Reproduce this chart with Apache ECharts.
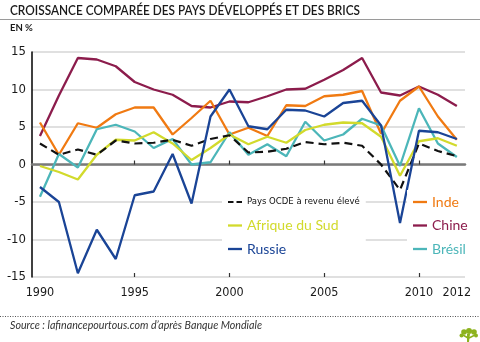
<!DOCTYPE html>
<html><head><meta charset="utf-8">
<script src="https://cdn.jsdelivr.net/npm/echarts@6/dist/echarts.min.js"></script>
<style>html,body{margin:0;padding:0;background:#fff}#c{width:480px;height:342px}</style>
</head><body><div id="c"></div>
<script>
const years = [1990,1991,1992,1993,1994,1995,1996,1997,1998,1999,2000,2001,2002,2003,2004,2005,2006,2007,2008,2009,2010,2011,2012];
const ocde = [2.8,1.3,2.0,1.3,3.2,2.8,2.9,3.3,2.5,3.4,3.9,1.6,1.7,2.1,3.0,2.7,2.9,2.5,0.0,-3.4,2.8,1.8,1.1];
const afriqueSud = [-0.2,-1.0,-2.0,1.3,3.3,3.2,4.3,2.8,0.6,2.2,4.0,2.7,3.7,2.9,4.6,5.3,5.6,5.5,3.7,-1.5,3.1,3.5,2.5];
const russie = [-3.0,-5.0,-14.5,-8.7,-12.6,-4.1,-3.6,1.4,-5.2,6.4,10.0,5.1,4.7,7.3,7.2,6.4,8.2,8.5,5.2,-7.8,4.5,4.3,3.4];
const inde = [5.6,1.3,5.5,4.9,6.7,7.6,7.6,4.0,6.2,8.5,4.0,4.9,3.8,7.9,7.8,9.1,9.3,9.8,4.1,8.5,10.4,6.4,3.3];
const chine = [3.8,9.2,14.2,14.0,13.1,11.0,10.0,9.3,7.8,7.6,8.4,8.3,9.1,10.0,10.1,11.3,12.6,14.2,9.6,9.2,10.4,9.3,7.8];
const bresil = [-4.3,1.4,-0.4,4.7,5.3,4.4,2.2,3.4,0.0,0.3,4.3,1.3,2.7,1.1,5.7,3.2,4.0,6.1,5.2,-0.2,7.5,2.8,1.0];
const xLabels = [1990,1995,2000,2005,2010,2012];
const xTicks = [1995,2000,2005,2010];

const pairs = arr => years.map((y,i)=>[y,arr[i]]);
const condensed = "'Liberation Sans Narrow','DejaVu Sans Condensed','Roboto',sans-serif";
const round = "'Lato','Noto Sans',sans-serif";
const colors = {ocde:'#111111', afr:'#d2da2c', rus:'#1a4496', inde:'#f07a12', chine:'#8c1c4c', bre:'#4cb6b9'};

const mctx = document.createElement('canvas').getContext('2d');
function measure(text, font){ mctx.font = font; return mctx.measureText(text).width || 1; }
function fitScale(text, font, target){ return target / measure(text, font); }

const titleText = 'CROISSANCE COMPARÉE DES PAYS DÉVELOPPÉS ET DES BRICS';
const titleFont = "600 13px 'Lato','Noto Sans',sans-serif";
const srcText = 'Source : lafinancepourtous.com d’après Banque Mondiale';
const srcFont = "italic 10.5px 'Lato','Noto Sans',sans-serif";
const ocdeName = 'Pays OCDE à revenu élevé';
const ocdeSize = Math.min(12.5, 11 * 113 / measure(ocdeName, "11px " + condensed));

function ser(name, arr, color, dashed){
  return {name, type:'line', data:pairs(arr), symbol:'none', smooth:false,
    lineStyle:{color, width: dashed?2.2:2.3, type: dashed?[8,5]:'solid'}, itemStyle:{color},
    emphasis:{disabled:true}, animation:false};
}
const lineIcon = 'rect';
const dashIcon = 'path://M0,0h5.5v2h-5.5z M8.5,0h5.5v2h-5.5z';
const chart = echarts.init(document.getElementById('c'), null, {renderer:'canvas'});
const xBase = {type:'value', min:1989.58, max:2012.43, splitLine:{show:false}};
const legBase = {orient:'vertical', top:190, padding:[5,6,5,6], backgroundColor:'#fff', itemWidth:14, itemHeight:2.3, itemGap:9.5, selectedMode:false,
  itemStyle:{borderWidth:0}, lineStyle:{type:'solid'}};
const lt = c => ({color:c, fontFamily:round, fontSize:14, fontWeight:'normal', lineHeight:14});
chart.setOption({
  animation:false,
  grid:{left:32, right:15, top:52, bottom:65},
  xAxis:[
    Object.assign({}, xBase, {position:'bottom', axisLine:{show:false, onZero:false}, axisTick:{show:false},
      axisLabel:{customValues:xLabels, formatter:v=>String(v), margin:9, fontFamily:condensed, fontSize:12.5, color:'#1a1a1a'}}),
    Object.assign({}, xBase, {axisLine:{show:true, onZero:true, lineStyle:{color:'#7a7a7a', width:2.5}},
      axisTick:{show:true, customValues:xTicks, inside:false, length:4, lineStyle:{color:'#333', width:1.2}}, axisLabel:{show:false}}),
    Object.assign({}, xBase, {axisLine:{show:false, onZero:true}, position:'bottom',
      axisTick:{show:true, customValues:xTicks, inside:true, length:4, lineStyle:{color:'#333', width:1.2}}, axisLabel:{show:false}})
  ],
  yAxis:{type:'value', min:-15, max:15, interval:5,
    axisLine:{show:true, onZero:false, lineStyle:{color:'#000', width:1.5}}, axisTick:{show:false},
    splitLine:{show:true, lineStyle:{color:'#d6d6d6', width:1.5}},
    axisLabel:{margin:6, fontFamily:condensed, fontSize:13, color:'#1a1a1a'}},
  legend:[
    Object.assign({}, legBase, {left:222,
     data:[{name:ocdeName, icon:dashIcon, textStyle:{color:'#111', fontFamily:condensed, fontSize:ocdeSize, fontWeight:'normal', lineHeight:14}},
           {name:'Afrique du Sud', icon:lineIcon, textStyle:lt(colors.afr)},
           {name:'Russie', icon:lineIcon, textStyle:lt(colors.rus)}]}),
    Object.assign({}, legBase, {left:407,
     data:[{name:'Inde', icon:lineIcon, textStyle:lt(colors.inde)},
           {name:'Chine', icon:lineIcon, textStyle:lt(colors.chine)},
           {name:'Brésil', icon:lineIcon, textStyle:lt(colors.bre)}]})
  ],
  series:[
    ser('Chine', chine, colors.chine),
    ser('Inde', inde, colors.inde),
    ser('Brésil', bresil, colors.bre),
    ser('Afrique du Sud', afriqueSud, colors.afr),
    ser(ocdeName, ocde, colors.ocde, true),
    ser('Russie', russie, colors.rus)
  ],
  graphic:[
    {type:'text', x:10, y:4, scaleX:fitScale(titleText, titleFont, 350), style:{text:titleText, font:titleFont, fill:'#1a1a1a'}},
    {type:'line', shape:{x1:0,y1:19.5,x2:480,y2:19.5}, style:{stroke:'#9a9a9a', lineWidth:1}},
    {type:'text', x:10, y:23, style:{text:'EN %', font:"bold 9.5px 'Lato','Noto Sans',sans-serif", fill:'#1a1a1a'}},
    {type:'line', shape:{x1:0,y1:316.5,x2:480,y2:316.5}, style:{stroke:'#555', lineWidth:1, lineDash:[1,1.5]}},
    {type:'text', x:10, y:320, scaleX:fitScale(srcText, srcFont, 252), style:{text:srcText, font:srcFont, fill:'#333'}},
    {type:'group', x:459, y:329, children:[
      {type:'polygon', shape:{points:[[8,5],[11,5],[10,13],[8,13]]}, style:{fill:'#8db31e'}},
      {type:'circle', shape:{cx:5,cy:3,r:2.8}, style:{fill:'#8db31e'}},
      {type:'circle', shape:{cx:10,cy:2,r:3}, style:{fill:'#8db31e'}},
      {type:'circle', shape:{cx:15,cy:3,r:2.8}, style:{fill:'#8db31e'}},
      {type:'circle', shape:{cx:2.5,cy:6.5,r:2}, style:{fill:'#8db31e'}},
      {type:'circle', shape:{cx:17,cy:6.5,r:2}, style:{fill:'#8db31e'}},
      {type:'line', shape:{x1:4,y1:6,x2:9,y2:9}, style:{stroke:'#8db31e', lineWidth:1.5}},
      {type:'line', shape:{x1:16,y1:6,x2:10,y2:9}, style:{stroke:'#8db31e', lineWidth:1.5}}
    ]}
  ]
});
</script></body></html>
